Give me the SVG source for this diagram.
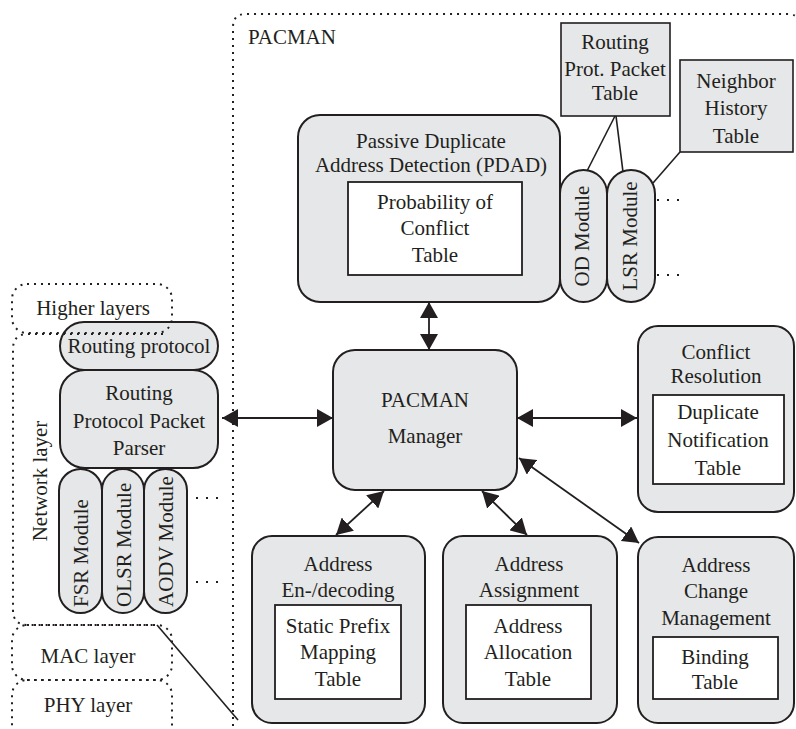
<svg xmlns="http://www.w3.org/2000/svg" width="796" height="729" viewBox="0 0 796 729">
  <style>
    text { font-family: "Liberation Serif", "Times New Roman", serif; font-size: 21px; fill: #231f20; }
    .c { text-anchor: middle; }
    .box { fill: #e6e7e8; stroke: #231f20; stroke-width: 2; }
    .sq { fill: #e6e7e8; stroke: #231f20; stroke-width: 1.6; }
    .tbl { fill: #ffffff; stroke: #231f20; stroke-width: 1.8; }
    .dot { fill: none; stroke: #231f20; stroke-width: 2; stroke-dasharray: 2 5; }
    .ell { fill: none; stroke: #231f20; stroke-width: 2; stroke-dasharray: 2 8; }
    .conn { fill: none; stroke: #231f20; stroke-width: 1.6; }
    .arr { fill: none; stroke: #231f20; stroke-width: 1.8; marker-start: url(#ah); marker-end: url(#ah); }
  </style>
  <defs>
    <marker id="ah" viewBox="0 0 16 18" refX="16" refY="9" markerWidth="16" markerHeight="18" markerUnits="userSpaceOnUse" orient="auto-start-reverse">
      <path d="M0,0 L16,9 L0,18 z" fill="#231f20"/>
    </marker>
  </defs>

  <!-- PACMAN frame (right and bottom edges run past the canvas) -->
  <g id="pacman-frame">
    <path class="dot" d="M233 740 V27 Q233 14 246 14 H788 Q796 14 798 20"/>
    <text x="248" y="44">PACMAN</text>
  </g>

  <!-- PDAD -->
  <g id="pdad">
    <rect class="box" x="298" y="115" width="262" height="187" rx="22"/>
    <text class="c" x="431" y="148">Passive Duplicate</text>
    <text class="c" x="431" y="172">Address Detection (PDAD)</text>
    <rect class="tbl" x="348" y="182" width="174" height="93"/>
    <text class="c" x="435" y="209">Probability of</text>
    <text class="c" x="435" y="235">Conflict</text>
    <text class="c" x="435" y="262">Table</text>
  </g>

  <g id="od-module">
    <rect class="box" x="560" y="170" width="47" height="132" rx="23.5"/>
    <text class="c" x="589" y="236" transform="rotate(-90 589 236)">OD Module</text>
  </g>
  <g id="lsr-module">
    <rect class="box" x="607" y="170" width="48" height="132" rx="24"/>
    <text class="c" x="637" y="236" transform="rotate(-90 637 236)">LSR Module</text>
  </g>

  <g id="routing-prot-table">
    <rect class="sq" x="561" y="23" width="109" height="93"/>
    <text class="c" x="615" y="49">Routing</text>
    <text class="c" x="615" y="76">Prot. Packet</text>
    <text class="c" x="615" y="100">Table</text>
  </g>
  <g id="neighbor-table">
    <rect class="sq" x="680" y="60" width="113" height="92"/>
    <text class="c" x="736" y="88">Neighbor</text>
    <text class="c" x="736" y="115">History</text>
    <text class="c" x="736" y="143">Table</text>
  </g>

  <!-- Manager -->
  <g id="manager">
    <rect class="box" x="333" y="350" width="184" height="140" rx="22"/>
    <text class="c" x="425" y="407">PACMAN</text>
    <text class="c" x="425" y="443">Manager</text>
  </g>

  <g id="conflict-resolution">
    <rect class="box" x="638" y="326" width="156" height="186" rx="20"/>
    <text class="c" x="716" y="359">Conflict</text>
    <text class="c" x="716" y="383">Resolution</text>
    <rect class="tbl" x="653" y="395" width="131" height="89"/>
    <text class="c" x="718" y="419">Duplicate</text>
    <text class="c" x="718" y="447">Notification</text>
    <text class="c" x="718" y="475">Table</text>
  </g>

  <g id="address-coding">
    <rect class="box" x="252" y="536" width="173" height="187" rx="20"/>
    <text class="c" x="338" y="571">Address</text>
    <text class="c" x="338" y="597">En-/decoding</text>
    <rect class="tbl" x="275" y="605" width="126" height="94"/>
    <text class="c" x="338" y="633">Static Prefix</text>
    <text class="c" x="338" y="659">Mapping</text>
    <text class="c" x="338" y="686">Table</text>
  </g>

  <g id="address-assignment">
    <rect class="box" x="443" y="536" width="174" height="187" rx="20"/>
    <text class="c" x="529" y="571">Address</text>
    <text class="c" x="529" y="597">Assignment</text>
    <rect class="tbl" x="466" y="605" width="125" height="94"/>
    <text class="c" x="528" y="633">Address</text>
    <text class="c" x="528" y="659">Allocation</text>
    <text class="c" x="528" y="686">Table</text>
  </g>

  <g id="address-change">
    <rect class="box" x="638" y="537" width="156" height="186" rx="20"/>
    <text class="c" x="716" y="572">Address</text>
    <text class="c" x="716" y="598">Change</text>
    <text class="c" x="716" y="625">Management</text>
    <rect class="tbl" x="653" y="637" width="125" height="62"/>
    <text class="c" x="715" y="664">Binding</text>
    <text class="c" x="715" y="689">Table</text>
  </g>

  <!-- Network stack -->
  <g id="routing-protocol">
    <rect class="box" x="60" y="322" width="158" height="48" rx="24"/>
    <text class="c" x="139" y="353">Routing protocol</text>
  </g>
  <g id="packet-parser">
    <rect class="box" x="60" y="370" width="158" height="98" rx="25"/>
    <text class="c" x="139" y="400">Routing</text>
    <text class="c" x="139" y="428">Protocol Packet</text>
    <text class="c" x="139" y="455">Parser</text>
  </g>
  <g id="fsr-module">
    <rect class="box" x="59" y="469" width="43" height="144" rx="21.5"/>
    <text x="88" y="607" transform="rotate(-90 88 607)">FSR Module</text>
  </g>
  <g id="olsr-module">
    <rect class="box" x="102" y="469" width="42" height="144" rx="21"/>
    <text x="131" y="607" transform="rotate(-90 131 607)">OLSR Module</text>
  </g>
  <g id="aodv-module">
    <rect class="box" x="144" y="469" width="43" height="144" rx="21.5"/>
    <text x="173" y="607" transform="rotate(-90 173 607)">AODV Module</text>
  </g>

  <!-- Connectors -->
  <g id="connectors">
    <line class="arr" x1="429" y1="302" x2="429" y2="350"/>
    <line class="arr" x1="222" y1="418" x2="333" y2="418"/>
    <line class="arr" x1="517" y1="418" x2="637" y2="418"/>
    <line class="arr" x1="384" y1="491" x2="336" y2="535"/>
    <line class="arr" x1="482" y1="491" x2="527" y2="535"/>
    <line class="arr" x1="519" y1="458" x2="639" y2="543"/>
    <line class="conn" x1="615" y1="116" x2="587" y2="171"/>
    <line class="conn" x1="616" y1="116" x2="623" y2="172"/>
    <line class="conn" x1="680" y1="152" x2="653" y2="183"/>
    <line class="conn" x1="157" y1="625" x2="238" y2="720"/>
    <path class="ell" d="M657 200 H679 M657 275 H679"/>
    <path class="ell" d="M196 498 H218 M196 582 H218"/>
  </g>

  <!-- Layer outlines -->
  <g id="higher-layers">
    <rect class="dot" x="12" y="284" width="160" height="49" rx="15"/>
    <text class="c" x="93" y="315">Higher layers</text>
  </g>
  <g id="network-layer">
    <path class="dot" d="M163 334 H28 Q13 334 13 349 V610 Q13 625 28 625 H157"/>
    <text class="c" x="47" y="481" transform="rotate(-90 47 481)">Network layer</text>
  </g>
  <g id="mac-layer">
    <rect class="dot" x="12" y="625" width="160" height="55" rx="15"/>
    <text class="c" x="88" y="663">MAC layer</text>
  </g>
  <g id="phy-layer">
    <rect class="dot" x="12" y="680" width="160" height="62" rx="15"/>
    <text class="c" x="88" y="712">PHY layer</text>
  </g>
</svg>
